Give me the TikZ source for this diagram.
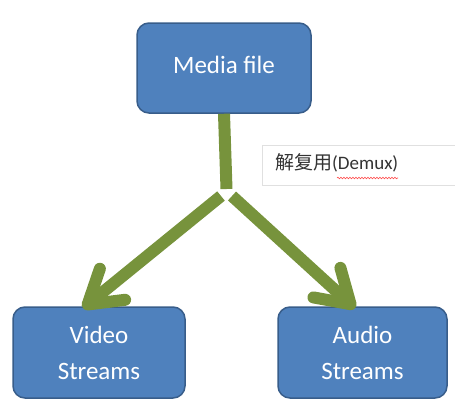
\documentclass[tikz,border=0pt]{standalone}
\usepackage{fontspec}
\setmainfont{Carlito}
\newfontfamily\cjk{Noto Sans CJK SC}
\usetikzlibrary{arrows.meta, positioning, decorations.pathmorphing}

\definecolor{boxblue}{HTML}{4F81BD}
\definecolor{boxline}{HTML}{385D8A}
\definecolor{arrowgreen}{HTML}{77933C}

\tikzset{
  mediabox/.style={draw=boxline, line width=1.5pt, fill=boxblue, rounded corners=12pt,
    text=white, font=\fontsize{25}{36}\selectfont, align=center, inner sep=0pt},
  greenline/.style={draw=arrowgreen, line width=12pt},
  greenarrow/.style={greenline, -{Straight Barb[length=32pt, width=40pt, round]}},
}

\begin{document}
\begin{tikzpicture}[x=1pt, y=-1pt]
	
	\useasboundingbox (0,0) rectangle (455,405);
	
	% Boxes
	\node[mediabox, minimum width=174pt, minimum height=90pt] (media) at (224,68) {\raisebox{6pt}{Media file}};
	\node[mediabox, minimum width=172pt, minimum height=91pt] (video) at (99,352.5) {Video\\Streams};
	\node[mediabox, minimum width=169pt, minimum height=91pt] (audio) at (362.5,352.5) {Audio\\Streams};
	
	% Label box for demux
	\fill[white] (262,145) rectangle (460,185);
	\draw[black!12] (460,145) -- (262,145) -- (262,185) -- (460,185);
	\node[anchor=west, inner sep=0pt, text=black!80, font=\fontsize{19}{22}\selectfont] (demux) at (275,163) {{\cjk 解复用}(Demux)};
	\draw[red!70, line width=0.6pt, decorate, decoration={snake, amplitude=0.8pt, segment length=3pt}] (337,178) -- (398,178);
	
	% Stem and the two branches
	\coordinate (split) at (226.5,189);
	\coordinate (leftstart) at (221,196);
	\coordinate (rightstart) at (232,196);
	\draw[greenline] (media.south) -- (split);
	\draw[greenarrow] (leftstart) -- ([xshift=-16pt,yshift=-2pt]video.north);
	\draw[greenarrow] (rightstart) -- ([xshift=-7.5pt,yshift=-2pt]audio.north);
	
\end{tikzpicture}
\end{document}
